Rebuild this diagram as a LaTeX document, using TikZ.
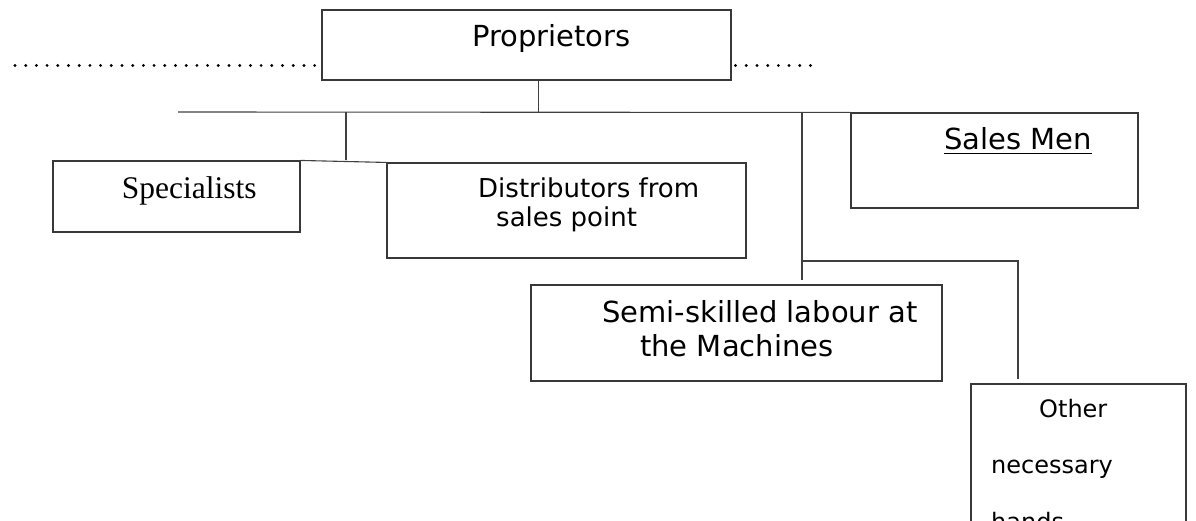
\documentclass[tikz,border=0pt]{standalone}
\usepackage{fontspec}
\setmainfont{DejaVu Sans}
\newfontfamily\serifface{Liberation Serif}
\newcommand{\undertext}[1]{\setbox0=\hbox{#1}\rlap{\rule[-4.2pt]{\wd0}{1.4pt}}\box0}
\usetikzlibrary{positioning}

\begin{document}
\begin{tikzpicture}[x=1pt, y=-1pt,
    box/.style={rectangle, draw=black!78, line width=1.1pt, inner sep=0pt},
    lbl/.style={anchor=base west, inner sep=0pt, align=left},
    link/.style={draw=black!75, line width=1.1pt},
    dots/.style={line width=3.2pt, line cap=round, dash pattern=on 0pt off 10.7pt}]

    \useasboundingbox (0,0) rectangle (1196,521);

    % Boxes
    \node[box, minimum width=409pt, minimum height=70pt] (prop) at (526.5,45) {};
    \node[box, minimum width=247pt, minimum height=71pt] (spec) at (176.5,196.5) {};
    \node[box, minimum width=359pt, minimum height=95pt] (distr) at (566.5,210.5) {};
    \node[box, minimum width=287pt, minimum height=95pt] (sales) at (994.5,160.5) {};
    \node[box, minimum width=411pt, minimum height=96pt] (semi) at (736.5,333) {};
    \node[box, minimum width=215pt, minimum height=200pt] (other) at (1078.5,484) {};

    % Texts (base = last line)
    \node[lbl, font=\fontsize{29}{34}\selectfont] (proptxt) at (472,47) {Proprietors};
    \node[lbl, font=\serifface\fontsize{31.5}{36}\selectfont] (spectxt) at (121.7,199) {Specialists};
    \node[lbl, font=\fontsize{26}{29}\selectfont] (distrtxt) at (478,227) {Distributors from\\\hspace*{18pt}sales point};
    \node[lbl, font=\fontsize{29}{34}\selectfont] (salestxt) at (944,150) {\undertext{Sales Men}};
    \node[lbl, font=\fontsize{29}{34}\selectfont] (semitxt) at (602,356) {Semi-skilled labour at\\\hspace*{38pt}the Machines};
    \node[lbl, font=\fontsize{24}{56.5}\selectfont] (othertxt) at (991,530) {\hspace*{48pt}Other\\necessary\\hands};

    % Dotted rule
    \coordinate (dotL) at (15,65.5);
    \coordinate (dotR) at (820,65.5);
    \draw[dots, shorten >=6pt] (dotL) -- (prop.west |- dotL);
    \draw[dots, shorten <=4pt] (prop.east |- dotR) -- (dotR);

    % Tree lines
    \coordinate (busL) at (178,112);
    \coordinate (busP) at (538.5,112);
    \coordinate (busS) at (346,112);
    \coordinate (busM) at (802,112);
    \coordinate (turn) at (802,261);
    \coordinate (turnO) at (1018,261);

    \draw[link] (prop.south -| busP) -- (busP);
    \draw[link] (busL) -- (sales.north west);
    \draw[link] (busS) -- (busS |- spec.north);
    \draw[link] (spec.north east) -- (distr.north west);
    \draw[link, shorten >=4pt] (busM) -- (busM |- semi.north);
    \draw[link, shorten >=4pt] (turn) -- (turnO) -- (turnO |- other.north);
\end{tikzpicture}
\end{document}
